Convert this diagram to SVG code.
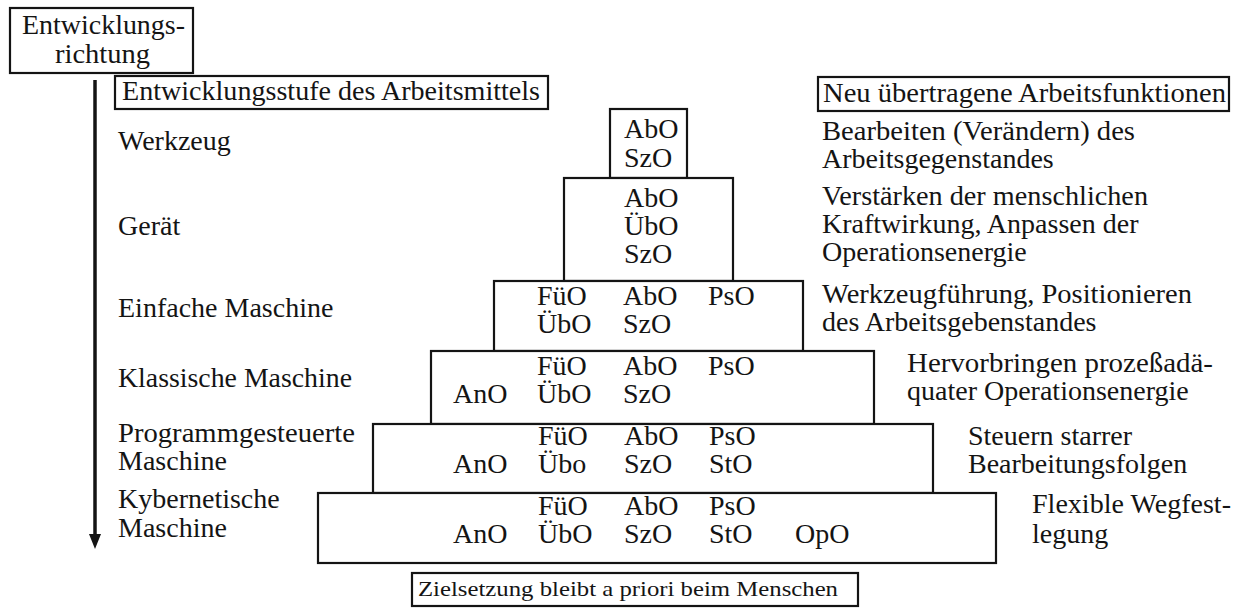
<svg xmlns="http://www.w3.org/2000/svg" width="1234" height="608" viewBox="0 0 1234 608">
<style>
text{font-family:"Liberation Serif","Times New Roman",serif;font-size:28px;fill:#141414}
.box{fill:#fff;stroke:#141414;stroke-width:2.2}
.sm{font-size:22px}
</style>
<rect width="1234" height="608" fill="#fff"/>
<g id="direction">
<rect class="box" x="10" y="8" width="183" height="65"/>
<text x="22" y="34" textLength="163" lengthAdjust="spacingAndGlyphs">Entwicklungs-</text>
<text x="55" y="63" textLength="95" lengthAdjust="spacingAndGlyphs">richtung</text>
</g>
<g id="connectors">
<line x1="95" y1="80" x2="95" y2="537" stroke="#141414" stroke-width="3.5"/>
<polygon points="89,534 101,534 95,549" fill="#141414"/>
</g>
<g id="header-left">
<rect class="box" x="115" y="76" width="433" height="33"/>
<text x="122" y="100" textLength="418" lengthAdjust="spacingAndGlyphs">Entwicklungsstufe des Arbeitsmittels</text>
</g>
<g id="header-right">
<rect class="box" x="818" y="77" width="411" height="34"/>
<text x="823" y="102" textLength="403" lengthAdjust="spacingAndGlyphs">Neu übertragene Arbeitsfunktionen</text>
</g>
<g id="stage-labels">
<text x="118" y="150">Werkzeug</text>
<text x="118" y="235">Gerät</text>
<text x="118" y="317">Einfache Maschine</text>
<text x="118" y="387" textLength="234" lengthAdjust="spacingAndGlyphs">Klassische Maschine</text>
<text x="118" y="442" textLength="237" lengthAdjust="spacingAndGlyphs">Programmgesteuerte</text>
<text x="118" y="470">Maschine</text>
<text x="118" y="508">Kybernetische</text>
<text x="118" y="537">Maschine</text>
</g>
<g id="functions">
<text x="822" y="140" textLength="313" lengthAdjust="spacingAndGlyphs">Bearbeiten (Verändern) des</text>
<text x="822" y="168">Arbeitsgegenstandes</text>
<text x="822" y="205" textLength="326" lengthAdjust="spacingAndGlyphs">Verstärken der menschlichen</text>
<text x="822" y="233">Kraftwirkung, Anpassen der</text>
<text x="822" y="261">Operationsenergie</text>
<text x="822" y="303" textLength="370" lengthAdjust="spacingAndGlyphs">Werkzeugführung, Positionieren</text>
<text x="822" y="331">des Arbeitsgebenstandes</text>
<text x="907" y="372" textLength="306" lengthAdjust="spacingAndGlyphs">Hervorbringen prozeßadä-</text>
<text x="907" y="400">quater Operationsenergie</text>
<text x="968" y="445">Steuern starrer</text>
<text x="968" y="473">Bearbeitungsfolgen</text>
<text x="1032" y="513" textLength="199" lengthAdjust="spacingAndGlyphs">Flexible Wegfest-</text>
<text x="1032" y="543">legung</text>
</g>
<g id="werkzeug">
<rect class="box" x="610" y="109" width="77" height="69"/>
<text x="624" y="138">AbO</text>
<text x="624" y="167">SzO</text>
</g>
<g id="geraet">
<rect class="box" x="564" y="178" width="169" height="103"/>
<text x="624" y="207">AbO</text>
<text x="624" y="235">ÜbO</text>
<text x="624" y="263">SzO</text>
</g>
<g id="einfache-maschine">
<rect class="box" x="494" y="281" width="309" height="70"/>
<text x="537" y="305">FüO</text>
<text x="623" y="305">AbO</text>
<text x="708" y="305">PsO</text>
<text x="537" y="333">ÜbO</text>
<text x="623" y="333">SzO</text>
</g>
<g id="klassische-maschine">
<rect class="box" x="431" y="351" width="443" height="73"/>
<text x="537" y="375">FüO</text>
<text x="623" y="375">AbO</text>
<text x="708" y="375">PsO</text>
<text x="453" y="403">AnO</text>
<text x="537" y="403">ÜbO</text>
<text x="623" y="403">SzO</text>
</g>
<g id="programmgesteuerte-maschine">
<rect class="box" x="373" y="424" width="560" height="69"/>
<text x="538" y="445">FüO</text>
<text x="624" y="445">AbO</text>
<text x="709" y="445">PsO</text>
<text x="453" y="473">AnO</text>
<text x="538" y="473">Übo</text>
<text x="624" y="473">SzO</text>
<text x="709" y="473">StO</text>
</g>
<g id="kybernetische-maschine">
<rect class="box" x="318" y="493" width="678" height="70"/>
<text x="538" y="515">FüO</text>
<text x="624" y="515">AbO</text>
<text x="709" y="515">PsO</text>
<text x="453" y="543">AnO</text>
<text x="538" y="543">ÜbO</text>
<text x="624" y="543">SzO</text>
<text x="709" y="543">StO</text>
<text x="795" y="543">OpO</text>
</g>
<g id="zielsetzung">
<rect class="box" x="412" y="573" width="446" height="33"/>
<text class="sm" x="418" y="596" textLength="420" lengthAdjust="spacingAndGlyphs">Zielsetzung bleibt a priori beim Menschen</text>
</g>
</svg>
